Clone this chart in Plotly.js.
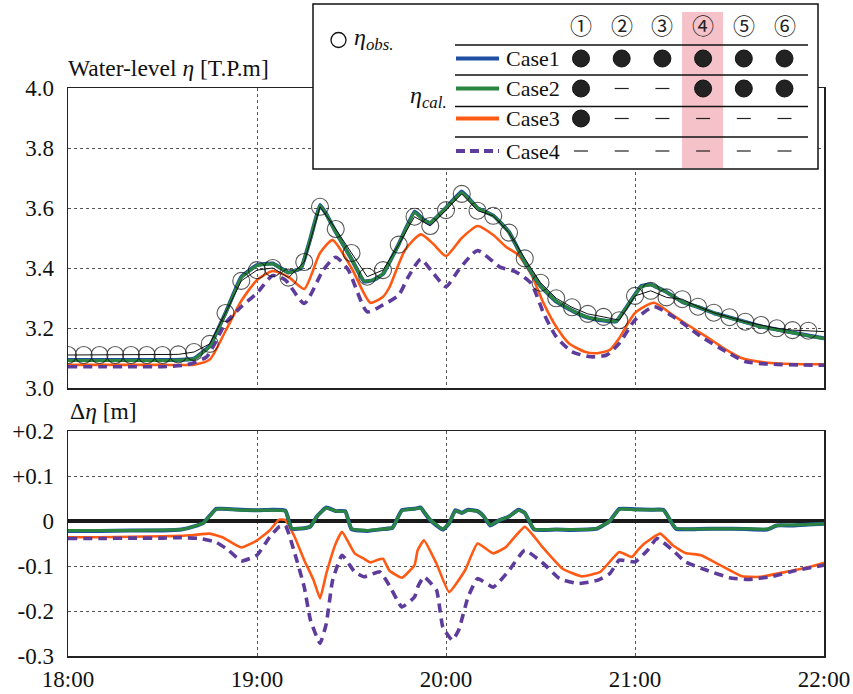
<!DOCTYPE html>
<html><head><meta charset="utf-8">
<script src="https://cdn.plot.ly/plotly-3.0.1.min.js"></script>
<style>html,body{margin:0;padding:0;background:#fff}</style>
</head><body><div id="chart" style="width:853px;height:694px"></div>
<script>
// ---------------- DATA ----------------
const xTickVals = [0, 60, 120, 180, 240];             // minutes after 18:00
const xTickText = ["18:00", "19:00", "20:00", "21:00", "22:00"];
const levelTickVals = [3.0, 3.2, 3.4, 3.6, 3.8, 4.0];
const levelTickText = ["3.0", "3.2", "3.4", "3.6", "3.8", "4.0"];
const diffTickVals = [-0.3, -0.2, -0.1, 0, 0.1, 0.2];
const diffTickText = ["-0.3", "-0.2", "-0.1", "0", "+0.1", "+0.2"];

// observed water level (every 5 minutes)
const obsTime = [0,5,10,15,20,25,30,35,40,45,50,55,60,65,70,75,80,85,90,95,100,105,110,115,120,125,130,135,140,145,150,155,160,165,170,175,180,185,190,195,200,205,210,215,220,225,230,235,240];
const obsLevel = [3.11,3.11,3.11,3.11,3.11,3.11,3.11,3.112,3.12,3.147,3.25,3.357,3.393,3.40,3.368,3.42,3.604,3.53,3.45,3.371,3.393,3.478,3.571,3.54,3.593,3.647,3.591,3.574,3.518,3.432,3.351,3.299,3.269,3.247,3.237,3.226,3.307,3.324,3.302,3.296,3.271,3.251,3.236,3.221,3.21,3.199,3.193,3.191,3.188];

// calculated water level
const case1Time = [0,10,20,30,36,40,45,50,55,60,65,70,74,77,80,82,85,90,94,97,100,105,110,113,115,120,125,130,135,140,145,150,155,160,165,170,174,178,182,185,190,195,200,205,210,215,220,225,230,235,240];
const case1Level = [3.093,3.093,3.093,3.093,3.094,3.098,3.14,3.25,3.37,3.41,3.415,3.385,3.40,3.50,3.61,3.58,3.52,3.43,3.355,3.36,3.38,3.48,3.588,3.56,3.55,3.60,3.655,3.60,3.575,3.52,3.42,3.34,3.288,3.258,3.235,3.225,3.222,3.28,3.34,3.345,3.32,3.287,3.27,3.25,3.235,3.22,3.205,3.195,3.185,3.175,3.166];
const case2Time = case1Time;
const case2Level = [3.092,3.092,3.092,3.092,3.093,3.097,3.138,3.248,3.368,3.408,3.414,3.384,3.401,3.50,3.608,3.578,3.519,3.43,3.356,3.361,3.381,3.479,3.586,3.559,3.551,3.60,3.652,3.60,3.574,3.519,3.42,3.34,3.289,3.259,3.236,3.226,3.223,3.279,3.338,3.344,3.319,3.287,3.27,3.25,3.234,3.219,3.204,3.194,3.184,3.174,3.165];
const case3Time = [0,10,20,30,40,45,50,55,60,65,70,75,80,84,90,96,100,102,107,112,116,120,125,130,135,139,143,147,151,155,159,164,168,172,175,180,186,192,196,201,205,209,214,222,230,240];
const case3Level = [3.077,3.077,3.077,3.077,3.078,3.095,3.19,3.29,3.36,3.39,3.37,3.33,3.45,3.493,3.40,3.284,3.304,3.335,3.46,3.512,3.48,3.44,3.50,3.54,3.51,3.471,3.443,3.38,3.282,3.204,3.149,3.121,3.116,3.127,3.166,3.25,3.284,3.243,3.215,3.182,3.155,3.127,3.099,3.084,3.08,3.079];
const case4Time = [0,10,20,30,38,44,50,55,60,65,69,75,81,85,89,95,100,105,108,112,116,120,124,130,137,142,147,151,155,160,166,171,175,180,186,193,201,209,215,224,232,240];
const case4Level = [3.071,3.071,3.071,3.071,3.078,3.104,3.216,3.271,3.316,3.375,3.36,3.282,3.393,3.436,3.393,3.254,3.277,3.31,3.37,3.429,3.382,3.338,3.393,3.458,3.404,3.388,3.349,3.249,3.171,3.121,3.104,3.11,3.149,3.227,3.271,3.232,3.171,3.121,3.088,3.079,3.077,3.076];

// difference Δη = calc - obs
const diff1Time = [0,10,20,30,36,40,43,47,49,55,60,65,69,71,75,77,79,82,85,88,90,95,100,103,106,110,112,113,115,119,121,123,125,127,130,132,134,137,140,143,145,148,155,160,165,168,172,175,180,185,189,193,200,207,215,222,225,230,235,240];
const diff1 = [-0.022,-0.022,-0.021,-0.021,-0.019,-0.012,-0.004,0.027,0.027,0.025,0.024,0.025,0.023,-0.017,-0.016,-0.012,0.01,0.03,0.022,0.022,-0.018,-0.022,-0.018,-0.015,0.024,0.027,0.03,0.02,0.002,-0.019,-0.005,0.024,0.018,0.025,0.022,0.01,-0.01,0.002,0.01,0.025,0.018,-0.019,-0.019,-0.02,-0.019,-0.017,0.0,0.027,0.026,0.025,0.025,-0.017,-0.018,-0.017,-0.018,-0.019,-0.01,-0.01,-0.008,-0.006];
const diff2Time = diff1Time;
const diff2 = [-0.021,-0.021,-0.021,-0.02,-0.019,-0.012,-0.004,0.026,0.027,0.024,0.024,0.024,0.022,-0.016,-0.016,-0.012,0.01,0.029,0.022,0.021,-0.017,-0.021,-0.018,-0.015,0.023,0.027,0.029,0.02,0.003,-0.018,-0.005,0.023,0.018,0.024,0.022,0.01,-0.009,0.002,0.01,0.024,0.018,-0.018,-0.019,-0.019,-0.019,-0.016,0.0,0.026,0.025,0.025,0.024,-0.016,-0.018,-0.017,-0.017,-0.018,-0.01,-0.009,-0.008,-0.006];
const diff3Time = [0,10,20,30,36,40,45,49,55,60,64,67,69,72,75,78,80,82,85,87,91,94,96,98,100,102,106,110,111,113,117,121,126,130,135,139,145,151,157,163,169,175,179,181,183,188,192,196,201,207,214,220,228,236,240];
const diff3 = [-0.036,-0.036,-0.035,-0.034,-0.033,-0.031,-0.028,-0.036,-0.059,-0.043,-0.021,0.003,0.002,-0.036,-0.087,-0.132,-0.172,-0.117,-0.05,-0.024,-0.072,-0.084,-0.092,-0.087,-0.084,-0.11,-0.126,-0.098,-0.065,-0.043,-0.095,-0.158,-0.11,-0.05,-0.072,-0.058,-0.013,-0.061,-0.106,-0.123,-0.113,-0.069,-0.08,-0.064,-0.05,-0.028,-0.054,-0.071,-0.076,-0.098,-0.123,-0.124,-0.113,-0.101,-0.093];
const diff4Time = [0,10,20,30,36,42,47,51,55,60,64,67,69,72,75,77,80,82,84,87,91,94,99,102,106,110,111,113,117,119,122,124,127,130,135,140,145,151,156,162,168,172,175,180,184,187,192,196,203,210,216,223,231,240];
const diff4 = [-0.039,-0.039,-0.038,-0.038,-0.037,-0.039,-0.047,-0.065,-0.089,-0.076,-0.036,-0.013,-0.01,-0.072,-0.147,-0.221,-0.272,-0.228,-0.132,-0.076,-0.113,-0.124,-0.113,-0.143,-0.191,-0.169,-0.147,-0.124,-0.154,-0.236,-0.265,-0.243,-0.169,-0.128,-0.147,-0.11,-0.065,-0.095,-0.128,-0.139,-0.132,-0.117,-0.087,-0.091,-0.065,-0.039,-0.065,-0.091,-0.11,-0.126,-0.13,-0.124,-0.11,-0.098];

// legend table
const caseNames = ["Case1", "Case2", "Case3", "Case4"];
const columnLabels = ["①", "②", "③", "④", "⑤", "⑥"];
const caseMarks = [
  [1,1,1,1,1,1],
  [1,0,0,1,1,1],
  [1,0,0,0,0,0],
  [0,0,0,0,0,0]
];
const highlightColumn = 3;

// ---------------- STYLE ----------------
const W = 853, H = 694, L = 68, R = 29, T = 88, B = 38;
const PW = W - L - R, PH = H - T - B;
const px = x => (x - L) / PW;
const py = y => (H - B - y) / PH;
const SERIF = "Liberation Serif";
const colors = ["#1f4fa0", "#2a8540", "#ff5a14", "#5e3c9c"];
const widths = [4, 3, 2.6, 3.6];
const dashes = ["solid", "solid", "solid", "9px,6px"];
const smooth = [0.3, 0.3, 0.6, 0.6];

const calcTimes = [case1Time, case2Time, case3Time, case4Time];
const calcLevels = [case1Level, case2Level, case3Level, case4Level];
const diffTimes = [diff1Time, diff2Time, diff3Time, diff4Time];
const diffs = [diff1, diff2, diff3, diff4];
const drawOrder = [2, 3, 0, 1];

const traces = [];
drawOrder.forEach(i => {
  traces.push({x: calcTimes[i], y: calcLevels[i], xaxis: "x", yaxis: "y", mode: "lines",
    line: {color: colors[i], width: widths[i], dash: dashes[i], shape: "spline", smoothing: smooth[i]},
    showlegend: false, hoverinfo: "skip"});
});
traces.push({x: obsTime, y: obsLevel, xaxis: "x", yaxis: "y", mode: "lines+markers",
  line: {color: "#111", width: 1},
  marker: {symbol: "circle-open", size: obsTime.map(t => t < 240 ? 17 : 0), color: "#111", line: {width: 1.1, color: "#111"}},
  showlegend: false, hoverinfo: "skip"});
drawOrder.forEach(i => {
  traces.push({x: diffTimes[i], y: diffs[i], xaxis: "x2", yaxis: "y2", mode: "lines",
    line: {color: colors[i], width: widths[i], dash: dashes[i], shape: "spline", smoothing: 0.4},
    showlegend: false, hoverinfo: "skip"});
});

function axisBase(extra) {
  return Object.assign({
    showline: true, mirror: true, linecolor: "#222", linewidth: 1.5,
    showgrid: true, gridcolor: "#555", gridwidth: 1, griddash: "dot",
    ticks: "", zeroline: false,
    tickfont: {family: SERIF, size: 23, color: "#111"}
  }, extra);
}

// ---------------- LEGEND TABLE (shapes + annotations) ----------------
const shapes = [];
const annotations = [];
shapes.push({type: "rect", xref: "paper", yref: "paper", x0: px(313), x1: px(818), y0: py(169), y1: py(4),
  fillcolor: "#fff", line: {color: "#111", width: 1.5}, layer: "above"});
const colX = columnLabels.map((_, k) => 581 + k * 40.7);
const rowY = [58.5, 88.5, 118.5, 151];
const sepY = [45, 75, 106.5, 137];
shapes.push({type: "rect", xref: "paper", yref: "paper",
  x0: px(colX[highlightColumn] - 21), x1: px(colX[highlightColumn] + 20), y0: py(168), y1: py(12),
  fillcolor: "#f6c2c9", line: {width: 0}, layer: "above"});
sepY.forEach(y => shapes.push({type: "line", xref: "paper", yref: "paper", x0: px(455), x1: px(808), y0: py(y), y1: py(y),
  line: {color: "#111", width: 1.3}, layer: "above"}));
columnLabels.forEach((lab, k) => annotations.push({xref: "paper", yref: "paper", x: px(colX[k]), y: py(24),
  text: lab, showarrow: false, xanchor: "center", yanchor: "middle",
  font: {family: "Noto Sans CJK JP", size: 22, color: "#222"}}));
shapes.push({type: "circle", xref: "paper", yref: "paper", x0: px(331), x1: px(346), y0: py(47.5), y1: py(32.5),
  line: {color: "#111", width: 1.3}, fillcolor: "rgba(0,0,0,0)", layer: "above"});
annotations.push({xref: "paper", yref: "paper", x: px(352), y: py(39), text: "<i>η</i><sub><i>obs.</i></sub>",
  showarrow: false, xanchor: "left", yanchor: "middle", font: {family: SERIF, size: 24, color: "#111"}});
annotations.push({xref: "paper", yref: "paper", x: px(408), y: py(97), text: "<i>η</i><sub><i>cal.</i></sub>",
  showarrow: false, xanchor: "left", yanchor: "middle", font: {family: SERIF, size: 24, color: "#111"}});
caseNames.forEach((name, r) => {
  const y = rowY[r];
  shapes.push({type: "line", xref: "paper", yref: "paper", x0: px(456), x1: px(499), y0: py(y), y1: py(y),
    line: {color: colors[r], width: 4, dash: r === 3 ? "9px,5px" : "solid"}, layer: "above"});
  annotations.push({xref: "paper", yref: "paper", x: px(504), y: py(y), text: name, showarrow: false,
    xanchor: "left", yanchor: "middle", font: {family: SERIF, size: 22, color: "#111"}});
  caseMarks[r].forEach((m, k) => {
    if (m) {
      shapes.push({type: "circle", xref: "paper", yref: "paper", x0: px(colX[k] - 8.5), x1: px(colX[k] + 8.5),
        y0: py(y + 8.5), y1: py(y - 8.5), fillcolor: "#222", line: {color: "#111", width: 1}, layer: "above"});
    } else {
      shapes.push({type: "line", xref: "paper", yref: "paper", x0: px(colX[k] - 7), x1: px(colX[k] + 7),
        y0: py(y), y1: py(y), line: {color: "#222", width: 1.2}, layer: "above"});
    }
  });
});
annotations.push({xref: "paper", yref: "paper", x: px(66), y: py(68), text: "Water-level <i>η</i> [T.P.m]",
  showarrow: false, xanchor: "left", yanchor: "middle", font: {family: SERIF, size: 23.5, color: "#111"}});
annotations.push({xref: "paper", yref: "paper", x: px(68), y: py(411), text: "Δ<i>η</i> [m]",
  showarrow: false, xanchor: "left", yanchor: "middle", font: {family: SERIF, size: 23.5, color: "#111"}});

const layout = {
  width: W, height: H,
  margin: {l: L, r: R, t: T, b: B, pad: 0},
  paper_bgcolor: "#fff", plot_bgcolor: "#fff",
  font: {family: SERIF, size: 22, color: "#111"},
  showlegend: false,
  xaxis: axisBase({domain: [0, 1], anchor: "y", range: [0, 240],
    tickvals: xTickVals, ticktext: xTickText, showticklabels: false}),
  xaxis2: axisBase({domain: [0, 1], anchor: "y2", range: [0, 240],
    tickvals: xTickVals, ticktext: xTickText, ticklabelstandoff: 2}),
  yaxis: axisBase({domain: [py(388), 1], anchor: "x", range: [3.0, 4.0],
    tickvals: levelTickVals, ticktext: levelTickText, ticklabelstandoff: 8}),
  yaxis2: axisBase({domain: [0, py(431)], anchor: "x2", range: [-0.3, 0.2],
    tickvals: diffTickVals, ticktext: diffTickText, ticklabelstandoff: 8,
    zeroline: true, zerolinecolor: "#1a1a1a", zerolinewidth: 4}),
  shapes: shapes,
  annotations: annotations
};

Plotly.newPlot("chart", traces, layout, {staticPlot: true, displayModeBar: false});
</script></body></html>
